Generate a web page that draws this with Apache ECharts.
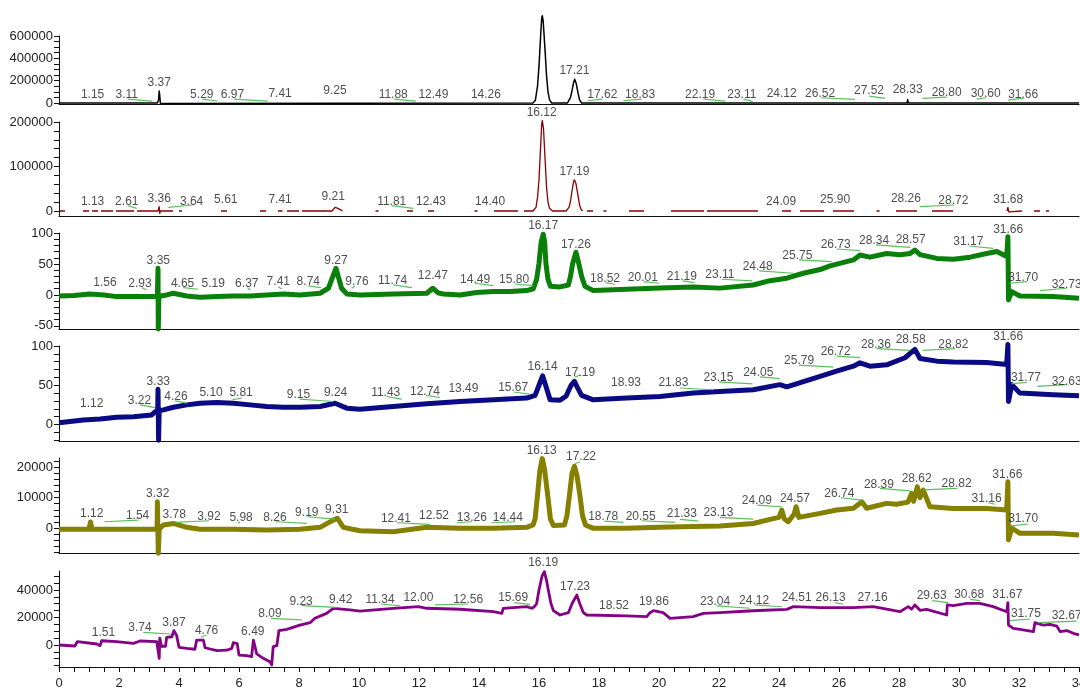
<!DOCTYPE html>
<html><head><meta charset="utf-8">
<script src="https://cdn.jsdelivr.net/npm/echarts@6/dist/echarts.min.js"></script>
<style>html,body{margin:0;padding:0;background:#fff}#c{width:1080px;height:688px}</style>
</head><body><div id="c"></div>
<script>
// ---- axis ticks / labels ----
const xLabels = [0,2,4,6,8,10,12,14,16,18,20,22,24,26,28,30,32,34];
const yLabels1 = [0,200000,400000,600000];
const yTicks1 = [0,50000,100000,150000,200000,250000,300000,350000,400000,450000,500000,550000,600000];
const yLabels2 = [0,100000,200000];
const yTicks2 = [0,20000,40000,60000,80000,100000,120000,140000,160000,180000,200000];
const yLabels3 = [-50,0,50,100];
const yTicks3 = [-50,-40,-30,-20,-10,0,10,20,30,40,50,60,70,80,90,100];
const yLabels4 = [0,50,100];
const yTicks4 = [-20,-10,0,10,20,30,40,50,60,70,80,90,100];
const yLabels5 = [0,10000,20000];
const yTicks5 = [-8000,-6000,-4000,-2000,0,2000,4000,6000,8000,10000,12000,14000,16000,18000,20000,22000];
const yLabels6 = [0,20000,40000];
const yTicks6 = [-15000,-10000,-5000,0,5000,10000,15000,20000,25000,30000,35000,40000,45000,50000];

// ---- traces [time, signal] ----
const trace1 = [[0,0],[3.28,0],[3.32,30000],[3.34,108000],[3.36,60000],[3.38,-5000],[3.42,0],[15.8,0],[15.88,25000],[15.95,150000],[16.0,330000],[16.05,580000],[16.09,760000],[16.11,782000],[16.14,730000],[16.2,480000],[16.25,250000],[16.3,100000],[16.35,30000],[16.42,0],[16.95,0],[17.0,15000],[17.05,50000],[17.1,110000],[17.15,180000],[17.19,212000],[17.24,175000],[17.3,90000],[17.35,30000],[17.42,0],[28.27,0],[28.29,30000],[28.31,0],[31.61,0],[31.63,10000],[31.65,0],[34,0]];

const trace2 = [[0.03,0],[0.2,0],[0.5,'-'],[0.8,0],[1.0,0],[1.05,'-'],[1.1,0],[1.3,0],[1.35,'-'],[1.4,0],[1.8,0],[1.85,'-'],[1.9,0],[2.5,0],[2.55,'-'],[2.6,0],[3.3,0],[3.34,9700],[3.36,-5200],[3.38,0],[3.8,0],[3.9,'-'],[4.0,0],[4.1,0],[4.5,'-'],[5.4,0],[5.6,0],[6,'-'],[6.7,0],[6.9,0],[7.1,'-'],[7.3,0],[7.45,0],[7.5,'-'],[7.6,0],[8.0,0],[8.05,'-'],[8.1,0],[9.1,0],[9.2,8000],[9.25,12000],[9.3,6000],[9.45,0],[10,'-'],[10.55,0],[10.65,0],[11,'-'],[11.6,0],[11.8,0],[12,'-'],[12.3,0],[12.5,0],[13,'-'],[13.85,0],[13.95,0],[14.2,'-'],[14.5,0],[15.3,0],[15.4,'-'],[15.5,0],[15.8,0],[15.9,8000],[15.95,30000],[16.0,70000],[16.05,140000],[16.09,195000],[16.11,203000],[16.15,185000],[16.2,120000],[16.25,55000],[16.3,20000],[16.35,6000],[16.45,0],[16.9,0],[17.0,8000],[17.05,22000],[17.1,45000],[17.15,65000],[17.18,70000],[17.23,62000],[17.3,35000],[17.35,14000],[17.4,4000],[17.45,0],[17.5,'-'],[17.6,0],[17.8,0],[18,'-'],[18.15,0],[18.25,0],[18.5,'-'],[19.0,0],[19.5,0],[20,'-'],[20.4,0],[21.5,0],[21.55,'-'],[21.6,0],[23.3,0],[23.6,'-'],[24.1,0],[24.4,0],[24.55,'-'],[24.7,0],[25.5,0],[25.65,'-'],[25.8,0],[26.5,0],[27,'-'],[27.25,0],[27.35,0],[27.6,'-'],[27.9,0],[28.6,0],[28.85,'-'],[29.1,0],[29.8,0],[30.5,'-'],[31.6,0],[31.63,8300],[31.66,-2000],[31.7,0],[32.1,0],[32.3,'-'],[32.5,0],[32.7,0],[32.8,'-'],[32.9,0],[33.0,0]];

const trace3 = [[0,-1.6],[0.5,-1],[1.03,1.6],[1.5,0],[1.92,-2.7],[2.48,-2.7],[2.92,-2.7],[3.28,-2],[3.3,43],[3.31,-55],[3.33,-2],[3.59,0],[3.81,2.7],[4.26,-1.6],[4.7,-3.8],[5.26,-2.7],[5.81,-1.6],[6.37,-1.6],[6.92,0],[7.48,1.6],[8.03,0],[8.7,2.7],[8.98,10.8],[9.23,43],[9.42,10.8],[9.59,1.6],[10.03,0],[11.14,1.6],[12.26,2.7],[12.46,10.8],[12.65,3],[12.81,1.6],[13.37,0],[13.92,4],[14.48,5.4],[15.03,5.4],[15.59,7],[15.81,10],[15.92,25],[16.0,51],[16.07,85],[16.14,98],[16.19,85],[16.23,51],[16.3,25],[16.38,14],[16.7,13],[16.98,16],[17.05,30],[17.12,50],[17.23,69],[17.32,52],[17.42,30],[17.53,14],[17.81,7],[18.92,9],[20.03,11],[21.14,13],[22.03,11],[23.14,16],[23.7,23],[24.26,27],[24.81,35],[25.37,41],[25.7,47],[26.48,56.5],[26.7,64.5],[27.03,61],[27.59,67],[28.03,65],[28.37,67],[28.53,72.6],[28.7,65],[29.26,59],[29.81,57.5],[30.37,61],[30.92,67],[31.26,70],[31.59,62],[31.62,62],[31.63,94],[31.65,-8],[31.76,5.4],[32.03,-1.6],[33.14,-2.7],[34,-5.4]];

const trace4 = [[0,2.3],[0.81,5.8],[1.37,7],[1.92,9.2],[2.48,10],[3.09,12.2],[3.2,16],[3.29,18],[3.3,45],[3.32,-20],[3.34,18],[3.48,18.6],[3.81,22],[4.26,25],[4.7,27],[5.26,28],[5.81,27],[6.37,25],[6.92,23],[7.48,22],[8.03,22],[8.7,23],[9.2,27],[9.59,20.8],[10.03,19.5],[11.14,23],[12.26,26.3],[13.37,29.3],[14.48,31.5],[15.59,33.7],[15.87,37],[16.0,50],[16.12,62],[16.22,50],[16.37,31.5],[16.7,31],[16.9,36],[17.07,50],[17.18,55],[17.27,48],[17.42,37],[17.81,31.5],[18.92,33.7],[20.03,35.7],[21.14,40],[22.03,42],[23.14,44.3],[24.03,50.8],[24.26,48],[25.37,61.4],[25.92,67.9],[26.48,74.3],[26.7,78.6],[27.03,74.3],[27.59,76],[28.2,85],[28.4,91.5],[28.53,95.7],[28.7,84],[29.26,80.7],[29.81,79.5],[30.92,79],[31.59,76.5],[31.62,76],[31.63,102],[31.65,29.3],[31.76,50.8],[32.03,40],[33.14,37.9],[34,36.6]];

const trace5 = [[0,-430],[1.0,-430],[1.05,2000],[1.1,-430],[3.14,-430],[3.27,-430],[3.28,8600],[3.31,-8300],[3.34,-400],[3.48,1000],[3.81,1500],[4.26,230],[4.7,-430],[5.81,-430],[6.92,-650],[8.03,-430],[8.7,230],[9.14,2600],[9.28,3200],[9.48,230],[10.03,-880],[11.14,-1200],[12.26,230],[13.37,-100],[14.48,-100],[15.59,230],[15.8,1000],[15.87,3000],[15.95,10800],[16.03,19000],[16.11,22800],[16.19,19000],[16.29,10800],[16.38,3000],[16.48,800],[16.85,1000],[16.93,4000],[17.01,10300],[17.1,18000],[17.18,20300],[17.27,17000],[17.37,10300],[17.45,4000],[17.55,1000],[17.81,-100],[18.92,-100],[20.03,230],[21.14,500],[22.03,650],[23.14,1500],[23.7,2850],[24.0,3500],[24.09,5900],[24.18,3000],[24.31,2070],[24.5,4500],[24.57,7000],[24.66,3500],[25.37,4800],[25.92,5900],[26.48,6500],[26.76,8600],[26.92,6500],[27.59,8100],[27.92,7800],[28.3,8500],[28.42,11400],[28.49,8800],[28.61,13550],[28.7,10000],[28.81,12460],[29.03,7000],[29.81,6450],[30.92,6450],[31.59,5900],[31.62,5900],[31.63,15200],[31.65,-3900],[31.76,0],[32.03,-1750],[33.14,-1750],[34,-2300]];

const trace6 = [[0,0],[0.53,-730],[0.58,-730],[0.61,2400],[1.26,730],[1.3,-500],[1.37,-500],[1.42,3100],[1.92,2400],[2.48,1200],[2.7,2900],[3.26,2400],[3.32,2400],[3.34,-9700],[3.36,4900],[3.42,-1000],[3.55,-1000],[3.59,5600],[3.76,6000],[3.83,10400],[3.92,7000],[3.98,7000],[4.0,-1700],[4.26,-2500],[4.53,-3100],[4.59,3600],[4.81,3600],[4.87,-2000],[5.26,-4100],[5.59,-3800],[5.76,-2500],[5.81,1700],[5.94,1000],[6.0,-7300],[6.26,-7800],[6.42,-8500],[6.48,3600],[6.53,2500],[6.59,-6500],[6.81,-9700],[7.03,-12100],[7.09,-14500],[7.14,-1200],[7.26,-500],[7.33,10400],[7.59,11400],[8.03,14500],[8.37,16200],[8.53,19400],[8.92,23000],[9.14,26700],[9.7,25500],[10.03,24700],[11.14,26700],[11.98,27900],[12.26,26700],[13.37,26000],[14.48,24200],[14.76,23000],[14.81,26700],[15.59,27900],[15.76,26700],[15.85,28000],[15.92,30000],[16.0,40000],[16.1,50000],[16.18,53300],[16.25,47000],[16.31,40000],[16.4,30000],[16.48,25000],[16.7,21800],[16.98,23500],[17.1,30000],[17.26,36300],[17.36,30000],[17.48,23500],[17.59,21800],[18.92,21100],[19.59,20600],[19.7,23500],[19.81,24900],[20.14,23500],[20.37,19400],[21.14,20600],[21.48,23000],[22.03,23500],[23.14,24900],[24.26,25900],[24.48,27900],[25.37,27200],[26.48,27200],[27.14,27900],[27.59,26000],[28.03,24200],[28.31,27900],[28.42,26000],[28.53,29100],[28.7,25200],[28.92,25900],[29.59,21800],[29.61,29100],[29.81,28600],[30.26,30300],[30.7,30300],[31.14,27900],[31.59,24200],[31.62,24200],[31.63,30800],[31.65,14500],[31.81,12100],[32.03,11400],[32.48,9700],[32.53,16200],[32.81,14500],[33.03,15000],[33.26,13700],[33.37,9700],[33.59,10500],[33.81,8500],[34,7300]];

// ---- peak labels [time, signal, text] ----
const peaks1 = [[1.12,70600,'1.15'],[2.26,70600,'3.11'],[3.34,179100,'3.37'],[4.76,70600,'5.29'],[5.78,70600,'6.97'],[7.37,79400,'7.41'],[9.2,108500,'9.25'],[11.14,70600,'11.88'],[12.48,70600,'12.49'],[14.23,70600,'14.26'],[17.18,285000,'17.21'],[18.11,70600,'17.62'],[19.37,70600,'18.83'],[21.37,70600,'22.19'],[22.76,70600,'23.11'],[24.09,85600,'24.12'],[25.37,85600,'26.52'],[27.0,105900,'27.52'],[28.29,120900,'28.33'],[29.59,94400,'28.80'],[30.89,85600,'30.60'],[32.14,76800,'31.66']];
const peaks2 = [[1.12,20900,'1.13'],[2.26,20900,'2.61'],[3.34,27000,'3.36'],[4.42,20900,'3.64'],[5.56,24700,'5.61'],[7.37,24700,'7.41'],[9.14,32100,'9.21'],[11.09,20900,'11.81'],[12.4,20900,'12.43'],[14.37,20900,'14.40'],[16.09,221800,'16.12'],[17.18,88300,'17.19'],[24.07,20900,'24.09'],[25.87,26300,'25.90'],[28.23,28500,'28.26'],[29.81,23100,'28.72'],[31.64,26300,'31.68']];
const peaks3 = [[1.53,19.8,'1.56'],[2.7,18.9,'2.93'],[3.31,55.3,'3.35'],[4.12,18.9,'4.65'],[5.14,18.9,'5.19'],[6.26,18.9,'6.37'],[7.31,21.5,'7.41'],[8.31,21.5,'8.74'],[9.23,55.3,'9.27'],[9.93,21,'9.76'],[11.12,22.6,'11.74'],[12.46,31.1,'12.47'],[13.87,24.2,'14.49'],[15.17,24.2,'15.80'],[16.14,111.8,'16.17'],[17.23,81.8,'17.26'],[18.2,25.8,'18.52'],[19.46,27.9,'20.01'],[20.76,29.5,'21.19'],[22.03,33.4,'23.11'],[23.29,45.6,'24.48'],[24.61,63.4,'25.75'],[25.89,81.8,'26.73'],[27.17,87.6,'28.34'],[28.39,88.7,'28.57'],[30.31,86,'31.17'],[31.64,104.8,'31.66'],[32.14,27.9,'31.70'],[33.59,16.1,'32.73']];
const peaks4 = [[1.09,26,'1.12'],[2.68,30.2,'3.22'],[3.31,55,'3.33'],[3.9,35.7,'4.26'],[5.07,40.9,'5.10'],[6.07,40.1,'5.81'],[7.98,37.9,'9.15'],[9.22,40.1,'9.24'],[10.89,40.9,'11.43'],[12.2,42.1,'12.74'],[13.48,45.2,'13.49'],[15.14,46.5,'15.67'],[16.12,73.5,'16.14'],[17.37,66.6,'17.19'],[18.9,52.9,'18.93'],[20.48,52.9,'21.83'],[21.98,60.1,'23.15'],[23.31,66.6,'24.05'],[24.67,80.7,'25.79'],[25.89,92.8,'26.72'],[27.23,102.2,'28.36'],[28.39,107.7,'28.58'],[29.81,101.3,'28.82'],[31.64,111.5,'31.66'],[32.23,60.1,'31.77'],[33.59,55,'32.63']];
const peaks5 = [[1.09,4800,'1.12'],[2.62,3900,'1.54'],[3.29,11400,'3.32'],[3.84,4300,'3.78'],[5.0,3700,'3.92'],[6.07,3400,'5.98'],[7.2,3400,'8.26'],[8.26,5100,'9.19'],[9.26,5900,'9.31'],[11.23,3000,'12.41'],[12.5,4000,'12.52'],[13.76,3400,'13.26'],[14.96,3400,'14.44'],[16.09,25300,'16.13'],[17.4,23400,'17.22'],[18.14,3700,'18.78'],[19.39,3700,'20.55'],[20.76,4600,'21.33'],[21.98,5000,'23.13'],[23.26,9000,'24.09'],[24.53,9500,'24.57'],[26.01,11400,'26.74'],[27.33,14300,'28.39'],[28.59,16100,'28.62'],[29.92,14700,'28.82'],[30.92,9500,'31.16'],[31.61,17600,'31.66'],[32.14,3000,'31.70']];
const peaks6 = [[1.48,8900,'1.51'],[2.7,12600,'3.74'],[3.83,16200,'3.87'],[4.92,10200,'4.76'],[6.46,9700,'6.49'],[7.03,23000,'8.09'],[8.07,31500,'9.23'],[9.39,33200,'9.42'],[10.7,32700,'11.34'],[11.98,34700,'12.00'],[13.64,33200,'12.56'],[15.14,34700,'15.69'],[16.14,60100,'16.19'],[17.2,42400,'17.23'],[18.5,28600,'18.52'],[19.83,31500,'19.86'],[21.87,31500,'23.04'],[23.17,32200,'24.12'],[24.59,34400,'24.51'],[25.72,34700,'26.13'],[27.12,34700,'27.16'],[29.09,35600,'29.63'],[30.34,36900,'30.68'],[31.61,36900,'31.67'],[32.23,23000,'31.75'],[33.59,21300,'32.67']];

// ---- integration baseline marks [t1, v1, t2, v2] ----
const marks1 = [[2.29,35300,3.11,17600],[4.78,35300,5.28,17600],[5.84,35300,6.96,17600],[11.17,35300,11.89,17600],[17.62,20300,18.11,35300],[18.81,20300,19.42,35300],[21.48,35300,22.2,17600],[22.81,35300,23.12,15000],[25.4,46800,26.53,32600],[27.01,61800,27.53,41500],[28.78,41500,29.59,52900],[30.59,35300,30.89,46800],[31.64,26500,32.14,44100]];
const marks2 = [[2.29,11900,2.59,6100],[3.64,8300,4.46,13500],[11.09,11900,11.81,6100],[28.7,9700,29.84,13500]];
const marks3 = [[2.76,11.8,2.92,8.1],[4.14,11.8,4.64,9.2],[6.28,11.8,6.37,8.1],[7.31,13.4,7.42,9.7],[8.31,14.5,8.73,11.8],[9.76,10.8,9.87,14.5],[11.14,16.1,11.76,11.8],[13.87,18.9,14.48,15],[15.2,17.7,15.81,15],[18.22,19.8,18.53,17.3],[19.5,21.5,20.01,18.9],[20.79,22.6,21.18,19.8],[22.09,25.3,23.11,22.6],[23.34,38.7,24.48,35],[24.67,56.5,25.76,53.7],[25.92,74.2,26.7,71.5],[27.23,80.7,28.37,76.9],[30.34,79,31.14,75.3],[31.7,18.9,32.26,21.5],[32.7,6.9,33.59,10.8]];
const marks4 = [[2.7,25.1,3.2,21.6],[3.87,30.2,4.26,27.2],[5.78,31.5,6.09,33.7],[8.03,32.4,9.14,29.3],[10.92,35.7,11.42,32.4],[12.23,37,12.7,34.4],[15.17,41.4,15.68,38.8],[17.2,60.7,17.37,62.7],[20.7,46.5,21.81,44.3],[21.99,54.2,23.12,51.7],[23.37,60.7,24.03,58.5],[24.67,75.6,25.81,73],[25.92,87.1,26.7,85.1],[27.26,96.6,28.37,94.4],[28.79,94.4,29.87,96.6],[31.76,52,32.26,53.7],[32.61,48.6,33.59,50.8]];
const marks5 = [[1.51,2070,2.64,2620],[3.87,1870,5.0,2390],[5.96,1540,6.03,2070],[7.23,2070,8.26,1540],[8.28,3700,9.2,2950],[11.26,1740,12.37,1210],[13.26,1740,13.76,2070],[14.42,1740,15.2,2070],[17.2,21200,17.37,21700],[18.18,2300,18.81,1870],[19.42,2390,20.53,1870],[20.7,2850,21.31,2300],[22.03,3500,23.14,2950],[23.28,7540,24.09,6990],[26.06,9940,26.76,9180],[27.37,13000,28.37,12200],[28.81,12500,29.94,13000],[30.98,8300,31.2,7800],[31.7,660,32.28,1310]];
const marks6 = [[2.81,9200,3.72,8000],[4.73,5600,4.92,7300],[7.06,19400,8.09,18200],[8.09,28600,9.23,27400],[10.72,29800,11.37,28400],[12.53,29100,13.64,29800],[15.17,30800,15.7,29600],[21.92,28400,23.03,26700],[23.2,29100,24.09,27800],[25.87,30800,26.14,29600],[29.11,32200,29.64,30800],[30.37,33200,30.7,32200],[31.7,17700,32.37,18900],[32.64,16200,33.92,17400]];

// ---- panel layout / style ----
const FONT = '"Liberation Sans", Arial, sans-serif';
const panels = [
  {trace:trace1, peaks:peaks1, marks:marks1, color:'#000000', width:1.5, top:36,  height:68, min:-9000,  max:600000, labels:yLabels1, ticks:yTicks1},
  {trace:trace2, peaks:peaks2, marks:marks2, color:'#8b0000', width:1.3, top:122, height:94, min:-11200, max:200000, labels:yLabels2, ticks:yTicks2},
  {trace:trace3, peaks:peaks3, marks:marks3, color:'#0a800a', width:5,   top:233, height:96, min:-55,    max:100,    labels:yLabels3, ticks:yTicks3},
  {trace:trace4, peaks:peaks4, marks:marks4, color:'#0a0a85', width:5,   top:346, height:95, min:-21,    max:100,    labels:yLabels4, ticks:yTicks4},
  {trace:trace5, peaks:peaks5, marks:marks5, color:'#858000', width:5,   top:458, height:95, min:-8200,  max:23000,  labels:yLabels5, ticks:yTicks5},
  {trace:trace6, peaks:peaks6, marks:marks6, color:'#850085', width:2.8, top:571, height:96, min:-16000, max:53800,  labels:yLabels6, ticks:yTicks6}
];

const grid = [], xAxis = [], yAxis = [], series = [];
panels.forEach((p, i) => {
  const last = i === panels.length - 1;
  grid.push({left:59, right:1, top:p.top, height:p.height, containLabel:false, outerBoundsMode:'none'});
  xAxis.push({
    gridIndex:i, type:'value', min:0, max:34, interval:2,
    axisLine:{show:true, onZero:false, lineStyle:{color:'#111', width:1.2}},
    axisTick:{show:last, length:5, lineStyle:{color:'#111'}},
    minorTick:{show:last, splitNumber:4, length:5, lineStyle:{color:'#111'}},
    axisLabel:{show:last, customValues:xLabels, margin:10, fontSize:13, color:'#222', fontFamily:FONT, formatter:v => String(v)},
    splitLine:{show:false}, minorSplitLine:{show:false}
  });
  yAxis.push({
    gridIndex:i, type:'value', min:p.min, max:p.max,
    axisLine:{show:true, onZero:false, lineStyle:{color:'#111', width:1}},
    axisTick:{show:true, customValues:p.ticks, length:5, lineStyle:{color:'#111'}},
    axisLabel:{show:true, customValues:p.labels, margin:6, fontSize:13, color:'#222', fontFamily:FONT, formatter:v => String(v)},
    splitLine:{show:false}
  });
  series.push({
    type:'line', xAxisIndex:i, yAxisIndex:i, data:p.trace, symbol:'none', showSymbol:false,
    connectNulls:false, clip:false, z:2,
    lineStyle:{color:p.color, width:p.width, join:'round'}
  });
  series.push({
    type:'lines', coordinateSystem:'cartesian2d', xAxisIndex:i, yAxisIndex:i, z:4,
    data:p.marks.map(m => ({coords:[[m[0], m[1]], [m[2], m[3]]]})),
    lineStyle:{color:'#5cbf5c', width:1.2, opacity:1}, effect:{show:false}
  });
  series.push({
    type:'scatter', xAxisIndex:i, yAxisIndex:i, data:p.peaks, symbolSize:1, clip:false, z:5,
    itemStyle:{color:'rgba(0,0,0,0)'},
    label:{show:true, position:'inside', formatter:q => q.data[2], color:'#222', fontSize:12, fontFamily:FONT}
  });
});

const chart = echarts.init(document.getElementById('c'), null, {renderer:'canvas'});
chart.setOption({animation:false, backgroundColor:'#ffffff', grid, xAxis, yAxis, series});
</script>
</body></html>
